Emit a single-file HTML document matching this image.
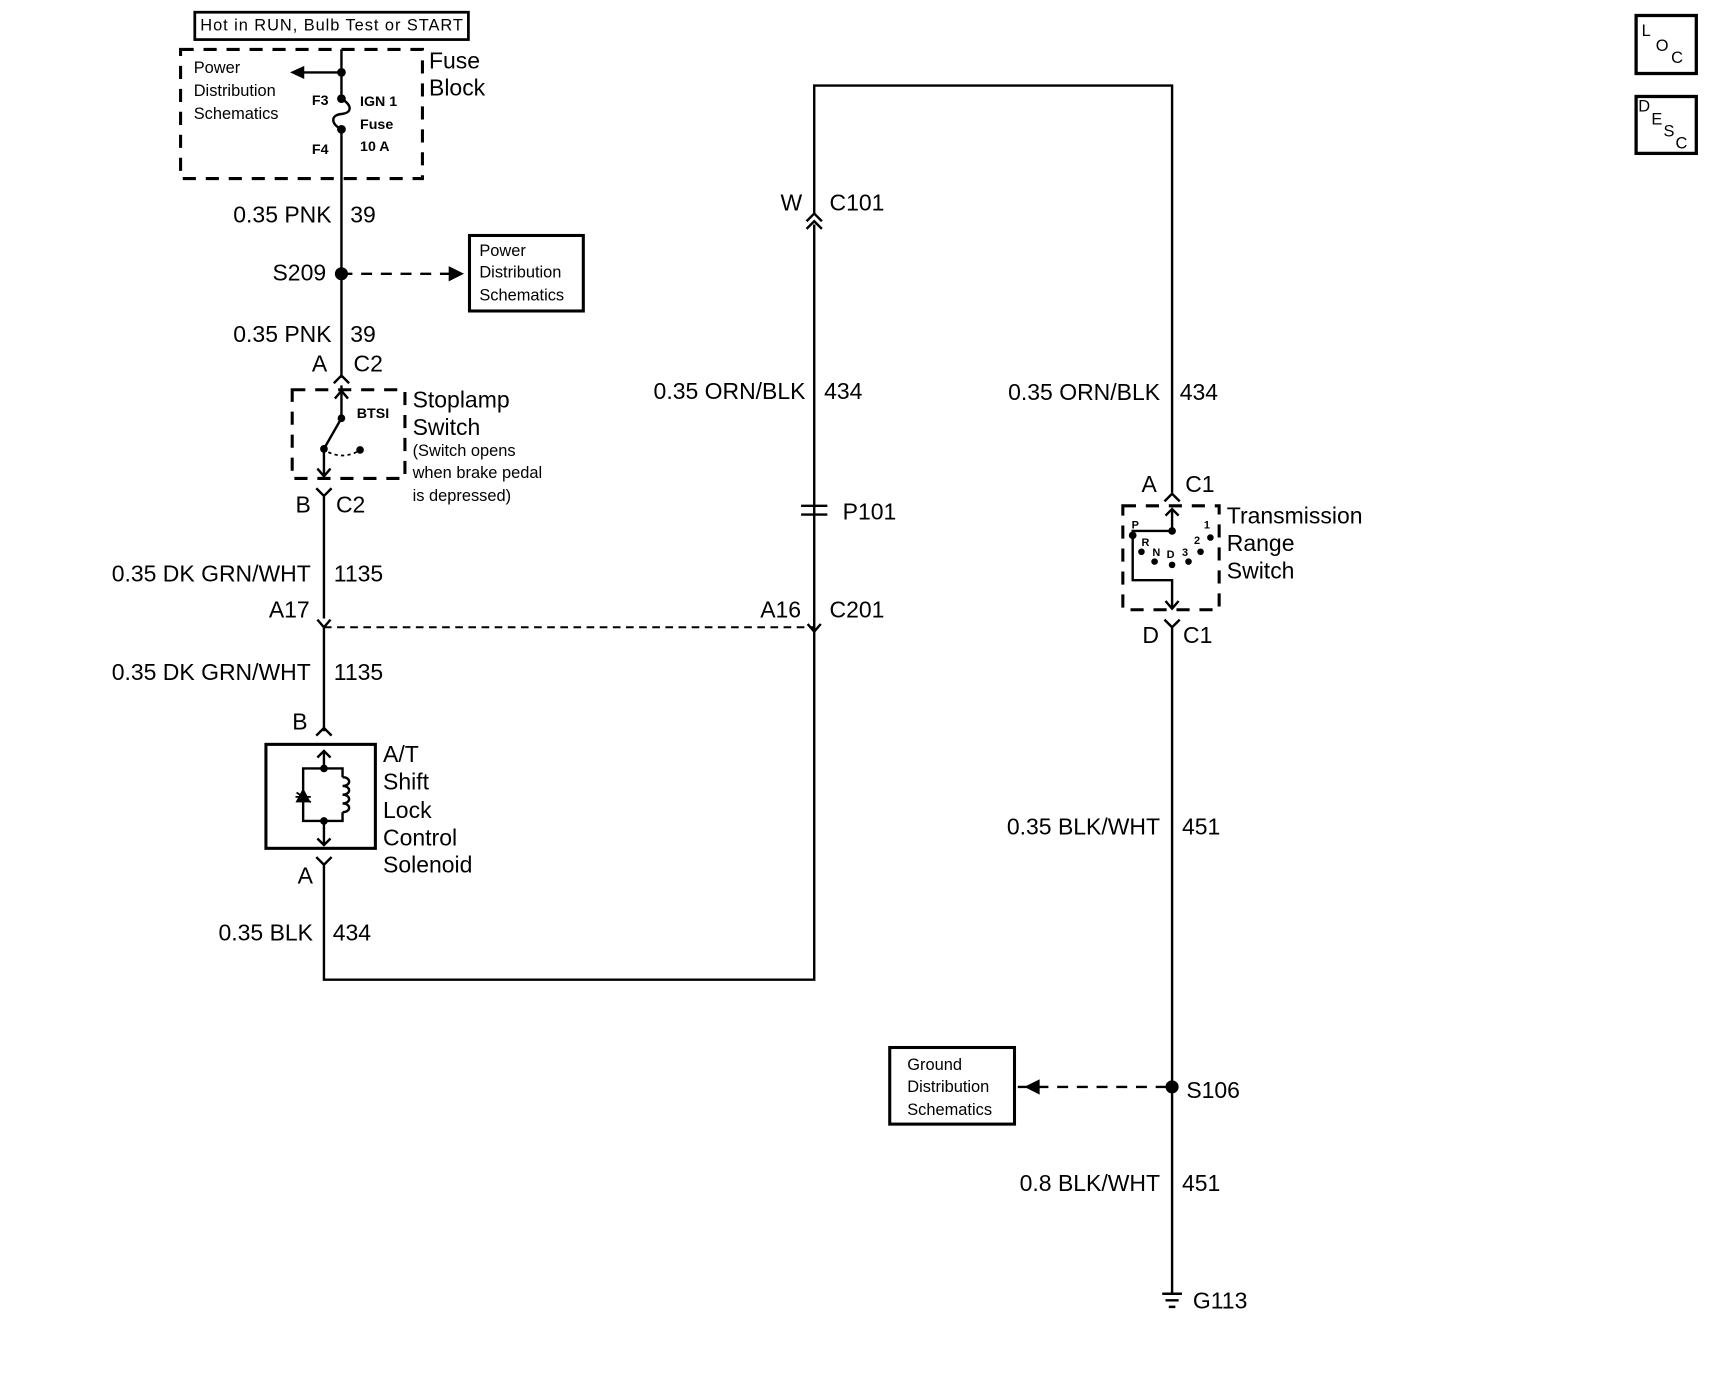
<!DOCTYPE html>
<html><head><meta charset="utf-8"><style>
html,body{margin:0;padding:0;background:#fff;}
svg{display:block}
text{font-family:"Liberation Sans",Arial,sans-serif;fill:#000;dominant-baseline:central}
.b{font-size:21px}
.s{font-size:15px}
.m{font-size:13px;font-weight:bold}
.t{font-size:10px;font-weight:bold}
</style></head><body>
<svg width="1716" height="1376" viewBox="0 0 1568 1257" xmlns="http://www.w3.org/2000/svg">
<g stroke="#000" stroke-width="2.2" fill="none">
<rect x="178" y="11" width="250" height="25" stroke-width="2.5"/>
<rect x="165" y="45" width="221" height="118" stroke-dasharray="12,9" stroke-width="2.8"/>
<path d="M312 45 V90 M312 118 V345"/>
<path d="M312 90 C322 96 322 103 312 104 C302 105 302 113 312 118"/>
<path d="M312 66 H275"/>
<path d="M312 352 V356"/>
<path d="M305 350 L312 343 L319 350"/>
<rect x="267" y="356" width="103" height="81" stroke-dasharray="12,9" stroke-width="2.8"/>
<path d="M312 356 V382 L296 410 V436"/>
<path d="M306 364 L312 357 L318 364 M290 428 L296 435 L302 428"/>
<path d="M300 413 Q315 420 329 411" stroke-dasharray="3,3" stroke-width="1.6"/>
<path d="M289 446 L296 453 L303 446 M296 453 V565"/>
<path d="M290 566 L296 573 L302 566"/>
<path d="M296 573 V668"/>
<path d="M296 573 H744" stroke-dasharray="7,5" stroke-width="1.8"/>
<path d="M289 672 L296 665 L303 672"/>
<rect x="243" y="680" width="100" height="95" stroke-width="2.8"/>
<path d="M296 687 V702 M296 750 V772 M290 692 L296 686 L302 692 M290 766 L296 772 L302 766"/>
<path d="M296 702 H277 V750 H296 M296 702 H313 V710 M313 742 V750 H296"/>
<path d="M313 710 c8 0 8 8 0 8 c8 0 8 8 0 8 c8 0 8 8 0 8 c8 0 8 8 0 8"/>
<path d="M270 728 L284 728 M271 724 L284 733" stroke-width="1.6"/>
<path d="M289 783 L296 790 L303 783 M296 790 V895 H744 V205"/>
<path d="M737 202 L744 195 L751 202 M737 209 L744 202 L751 209"/>
<path d="M744 195 V78 H1071 V450"/>
<path d="M732 462 H756 M732 470 H756"/>
<path d="M738 570 L744 577 L750 570"/>
<path d="M1064 458 L1071 451 L1078 458"/>
<rect x="1026" y="462" width="88" height="95" stroke-dasharray="12,9" stroke-width="2.8"/>
<path d="M1071 465 V485 H1035 V530 H1071 V556 M1065 471 L1071 465 L1077 471 M1065 549 L1071 556 L1077 549"/>
<path d="M1064 566 L1071 573 L1078 566 M1071 573 V1182"/>
<path d="M930 993 H1071" stroke-dasharray="10,8"/>
<rect x="813" y="957" width="114" height="70" stroke-width="2.8"/>
<rect x="429" y="215" width="104" height="69" stroke-width="2.8"/>
<path d="M312 250 H412" stroke-dasharray="10,8"/>
<path d="M1062 1182 H1080 M1065 1188 H1077 M1068 1194 H1074"/>
<rect x="1495" y="88" width="55" height="52" stroke-width="3"/>
<rect x="1495" y="14" width="55" height="53" stroke-width="3"/>
</g>
<g fill="#000">
<polygon points="265,66 278,60 278,72"/>
<polygon points="424,250 410,243 410,257"/>
<polygon points="936,993 950,986 950,1000"/>
<circle cx="312" cy="66" r="4"/><circle cx="312" cy="90" r="4"/><circle cx="312" cy="118" r="4"/>
<circle cx="312" cy="250" r="6"/><circle cx="1071" cy="993" r="6"/>
<circle cx="312" cy="382" r="3.5"/><circle cx="296" cy="410" r="3.5"/><circle cx="329" cy="411" r="3.5"/>
<circle cx="296" cy="702" r="3.5"/><circle cx="296" cy="750" r="3.5"/>
<circle cx="1071" cy="485" r="3.5"/><circle cx="1035" cy="489" r="3.5"/><circle cx="1043" cy="504" r="3"/><circle cx="1055" cy="513" r="3"/><circle cx="1071" cy="516" r="3"/><circle cx="1086" cy="513" r="3"/><circle cx="1097" cy="504" r="3"/><circle cx="1106" cy="491" r="3"/>
<polygon points="277,720 284,733 270,733"/>
</g>
<text x="1034" y="480" class="t">P</text><text x="1043" y="496" class="t">R</text><text x="1053" y="505" class="t">N</text><text x="1066" y="507" class="t">D</text><text x="1080" y="505" class="t">3</text><text x="1091" y="494" class="t">2</text><text x="1100" y="480" class="t">1</text>
<text x="183" y="23" class="s" textLength="240">Hot in RUN, Bulb Test or START</text>
<text x="177" y="62" class="s">Power</text><text x="177" y="83" class="s">Distribution</text><text x="177" y="104" class="s">Schematics</text>
<text x="285" y="92" class="m">F3</text><text x="285" y="137" class="m">F4</text>
<text x="329" y="93" class="m">IGN 1</text><text x="329" y="114" class="m">Fuse</text><text x="329" y="134" class="m">10 A</text>
<text x="392" y="55" class="b">Fuse</text><text x="392" y="80" class="b">Block</text>
<text x="303" y="196" class="b" text-anchor="end">0.35 PNK</text><text x="320" y="196" class="b">39</text>
<text x="298" y="249" class="b" text-anchor="end">S209</text>
<text x="438" y="229" class="s">Power</text><text x="438" y="249" class="s">Distribution</text><text x="438" y="270" class="s">Schematics</text>
<text x="303" y="305" class="b" text-anchor="end">0.35 PNK</text><text x="320" y="305" class="b">39</text>
<text x="299" y="332" class="b" text-anchor="end">A</text><text x="323" y="332" class="b">C2</text>
<text x="326" y="378" class="m">BTSI</text>
<text x="377" y="365" class="b">Stoplamp</text><text x="377" y="390" class="b">Switch</text>
<text x="377" y="412" class="s">(Switch opens</text><text x="377" y="432" class="s">when brake pedal</text><text x="377" y="453" class="s">is depressed)</text>
<text x="284" y="461" class="b" text-anchor="end">B</text><text x="307" y="461" class="b">C2</text>
<text x="284" y="524" class="b" text-anchor="end">0.35 DK GRN/WHT</text><text x="305" y="524" class="b">1135</text>
<text x="283" y="557" class="b" text-anchor="end">A17</text>
<text x="732" y="557" class="b" text-anchor="end">A16</text><text x="758" y="557" class="b">C201</text>
<text x="284" y="614" class="b" text-anchor="end">0.35 DK GRN/WHT</text><text x="305" y="614" class="b">1135</text>
<text x="281" y="659" class="b" text-anchor="end">B</text>
<text x="350" y="689" class="b">A/T</text><text x="350" y="714" class="b">Shift</text><text x="350" y="740" class="b">Lock</text><text x="350" y="765" class="b">Control</text><text x="350" y="790" class="b">Solenoid</text>
<text x="286" y="800" class="b" text-anchor="end">A</text>
<text x="286" y="852" class="b" text-anchor="end">0.35 BLK</text><text x="304" y="852" class="b">434</text>
<text x="733" y="185" class="b" text-anchor="end">W</text><text x="758" y="185" class="b">C101</text>
<text x="736" y="357" class="b" text-anchor="end">0.35 ORN/BLK</text><text x="753" y="357" class="b">434</text>
<text x="770" y="467" class="b">P101</text>
<text x="1060" y="358" class="b" text-anchor="end">0.35 ORN/BLK</text><text x="1078" y="358" class="b">434</text>
<text x="1057" y="442" class="b" text-anchor="end">A</text><text x="1083" y="442" class="b">C1</text>
<text x="1121" y="471" class="b">Transmission</text><text x="1121" y="496" class="b">Range</text><text x="1121" y="521" class="b">Switch</text>
<text x="1059" y="580" class="b" text-anchor="end">D</text><text x="1081" y="580" class="b">C1</text>
<text x="1060" y="755" class="b" text-anchor="end">0.35 BLK/WHT</text><text x="1080" y="755" class="b">451</text>
<text x="829" y="973" class="s">Ground</text><text x="829" y="993" class="s">Distribution</text><text x="829" y="1014" class="s">Schematics</text>
<text x="1084" y="996" class="b">S106</text>
<text x="1060" y="1081" class="b" text-anchor="end">0.8 BLK/WHT</text><text x="1080" y="1081" class="b">451</text>
<text x="1090" y="1188" class="b">G113</text>
<text x="1500" y="28" style="font-size:15px">L</text><text x="1513" y="42" style="font-size:15px">O</text><text x="1527" y="53" style="font-size:15px">C</text>
<text x="1497" y="97" style="font-size:15px">D</text><text x="1509" y="109" style="font-size:15px">E</text><text x="1520" y="120" style="font-size:15px">S</text><text x="1531" y="131" style="font-size:15px">C</text>
</svg>
</body></html>
